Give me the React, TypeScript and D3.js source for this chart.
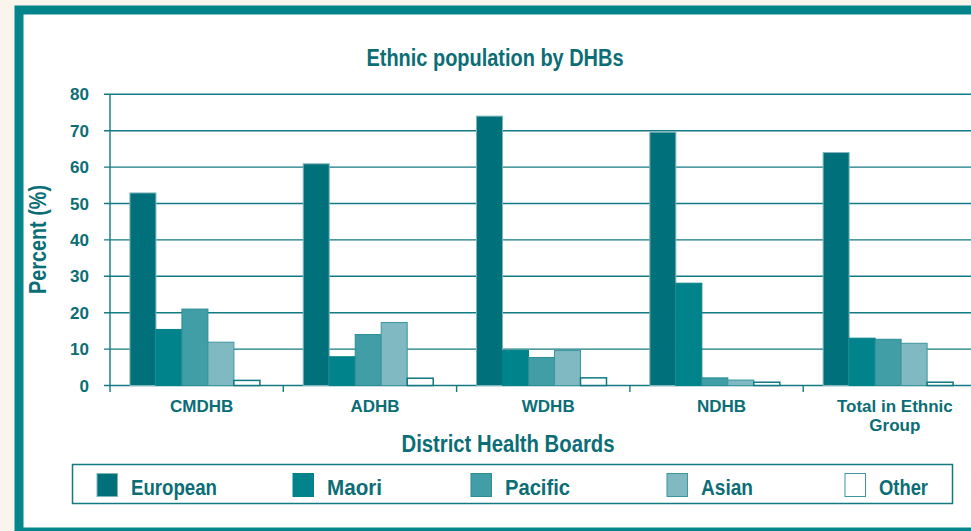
import React from "react";
import * as d3 from "d3";

const categories = ["CMDHB", "ADHB", "WDHB", "NDHB", "Total in Ethnic Group"];
const categoryLines = [["CMDHB"], ["ADHB"], ["WDHB"], ["NDHB"], ["Total in Ethnic", "Group"]];
const seriesNames = ["European", "Maori", "Pacific", "Asian", "Other"];
const european = [52.9, 60.9, 74.0, 69.6, 64.0];
const maori = [15.4, 7.9, 9.6, 28.1, 13.0];
const pacific = [21.0, 14.0, 7.7, 2.1, 12.7];
const asian = [11.9, 17.3, 9.6, 1.5, 11.6];
const other = [1.4, 2.0, 2.1, 0.9, 0.9];
const yTicks = [0, 10, 20, 30, 40, 50, 60, 70, 80];

const seriesValues = [european, maori, pacific, asian, other];
const fills = ["#00707a", "#00838b", "#419da6", "#80b9c1", "#ffffff"];
const strokes = ["#7fb5bb", "#00838b", "#2b8e97", "#3d96a0", "#0f7880"];
const legendX = [97, 293, 471, 667, 845];
const legendW = [86, 55, 65, 52, 49];

const W = 971;
const H = 531;
const TEXT = "#0b6d75";
const LINE = "#127a82";
const SANS = "'Liberation Sans', Arial, Helvetica, sans-serif";

export default function App() {
  const y = d3.scaleLinear().domain([0, 80]).range([385.5, 94.3]);
  const x0 = d3.scaleBand<string>().domain(categories).range([110, 976.5]).padding(0);
  const bw = x0.bandwidth();
  const x1 = d3
    .scaleBand<string>()
    .domain(seriesNames)
    .range([bw * 0.115, bw * 0.865])
    .padding(0);

  return (
    <svg
      width={W}
      height={H}
      style={{ position: "absolute", left: 0, top: 0, display: "block" }}
    >
      <rect x={0} y={0} width={W} height={H} fill="#f9f5ec" />
      <rect x={19} y={10} width={W + 20} height={522} fill="#ffffff" stroke="#04848b" strokeWidth={9} />

      <text
        x={366.5}
        y={66}
        fill={TEXT}
        fontFamily={SANS}
        fontWeight="bold"
        fontSize={24}
        textLength={257}
        lengthAdjust="spacingAndGlyphs"
      >
        Ethnic population by DHBs
      </text>

      {/* gridlines */}
      {yTicks.map((t) => (
        <g key={t}>
          <line x1={104} x2={W} y1={y(t)} y2={y(t)} stroke={LINE} strokeWidth={1.4} />
          <text
            x={89}
            y={y(t) + 6}
            textAnchor="end"
            fill={TEXT}
            fontFamily={SANS}
            fontWeight="bold"
            fontSize={17}
          >
            {t}
          </text>
        </g>
      ))}

      {/* y axis */}
      <line x1={110} x2={110} y1={y(80)} y2={392} stroke={LINE} strokeWidth={1.4} />
      {categories.map((c, i) => (
        <line
          key={"tk" + i}
          x1={(x0(c) as number) + bw}
          x2={(x0(c) as number) + bw}
          y1={y(0)}
          y2={392}
          stroke={LINE}
          strokeWidth={1.4}
        />
      ))}

      {/* bars */}
      {categories.map((c, ci) => (
        <g key={c} transform={`translate(${x0(c)},0)`}>
          {seriesNames.map((s, si) => {
            const v = seriesValues[si][ci];
            return (
              <rect
                key={s}
                x={x1(s) as number}
                y={y(v)}
                width={x1.bandwidth()}
                height={y(0) - y(v)}
                fill={fills[si]}
                stroke={strokes[si]}
                strokeWidth={si === 4 ? 1.5 : 1}
              />
            );
          })}
        </g>
      ))}

      {/* category labels */}
      {categories.map((c, i) =>
        categoryLines[i].map((ln, li) => (
          <text
            key={"cl" + i + "-" + li}
            x={(x0(c) as number) + bw / 2 + 5}
            y={412 + li * 19}
            textAnchor="middle"
            fill={TEXT}
            fontFamily={SANS}
            fontWeight="bold"
            fontSize={17}
          >
            {ln}
          </text>
        ))
      )}

      <text
        x={401.5}
        y={452}
        fill={TEXT}
        fontFamily={SANS}
        fontWeight="bold"
        fontSize={23}
        textLength={213}
        lengthAdjust="spacingAndGlyphs"
      >
        District Health Boards
      </text>

      <text
        transform="translate(46,294) rotate(-90)"
        fill={TEXT}
        fontFamily={SANS}
        fontWeight="bold"
        fontSize={23}
        textLength={109}
        lengthAdjust="spacingAndGlyphs"
      >
        Percent (%)
      </text>

      {/* legend */}
      <rect x={72.5} y={464.5} width={880} height={39} fill="#ffffff" stroke={LINE} strokeWidth={1.5} />
      {seriesNames.map((s, i) => (
        <g key={"lg" + s}>
          <rect
            x={legendX[i]}
            y={473.5}
            width={20.5}
            height={23}
            fill={fills[i]}
            stroke={i === 4 ? "#3d96a0" : strokes[i]}
            strokeWidth={1}
          />
          <text
            x={legendX[i] + 34}
            y={495}
            fill={TEXT}
            fontFamily={SANS}
            fontWeight="bold"
            fontSize={21.5}
            textLength={legendW[i]}
            lengthAdjust="spacingAndGlyphs"
          >
            {s}
          </text>
        </g>
      ))}
    </svg>
  );
}
